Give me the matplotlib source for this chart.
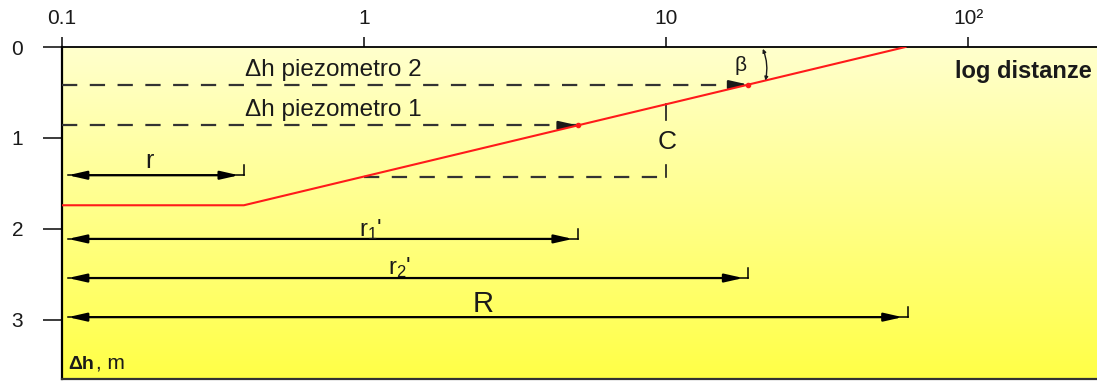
import numpy as np
import matplotlib
matplotlib.use("Agg")
import matplotlib.pyplot as plt

plt.rcParams['font.family'] = ['Liberation Sans', 'DejaVu Sans']
plt.rcParams['mathtext.fontset'] = 'custom'
plt.rcParams['mathtext.rm'] = 'Liberation Sans'
plt.rcParams['lines.scale_dashes'] = False

# axes ticks
x_ticks = [0.1, 1, 10, 100]
x_tick_labels = ['0.1', '1', '10', '10²']
y_ticks = [0, 1, 2, 3]
y_tick_labels = ['0', '1', '2', '3']

# drawdown curve: flat inside the well radius, straight line in log distance beyond
curve_r = [0.1, 0.4, 62.0]
curve_dh = [1.74, 1.74, 0.0]

# piezometers
piezo_r = [5.1, 18.7]
piezo_labels = ['Δh piezometro 1', 'Δh piezometro 2']

# distance dimensions
dim_labels = ['r', r"$\mathregular{r_1}$'", r"$\mathregular{r_2}$'", 'R']
dim_ends = [0.4, 5.1, 18.7, 63.0]
dim_levels = [1.41, 2.11, 2.54, 2.97]
dim_label_x = [0.195, 1.05, 1.31, 2.48]
dim_label_y = [1.25, 2.01, 2.42, 2.82]
dim_label_size = [18, 17, 17, 21]

# one log cycle used for C
c_from, c_to = 1.0, 10.0


def dh_at(r):
    return np.interp(np.log10(r), np.log10(curve_r), curve_dh)


W, H = 1097, 381
fig = plt.figure(figsize=(W / 100, H / 100), dpi=100)
ax = fig.add_axes([62 / W, 2 / H, 1 - 62 / W, (379 - 47) / H])
ax.set_xscale('log')
ax.set_xlim(0.1, 267)
ax.set_ylim(3.65, 0)

# yellow background gradient
grad = np.linspace(0, 1, 256).reshape(-1, 1)
top = np.array([255, 255, 205]) / 255
bot = np.array([255, 255, 70]) / 255
img = top + (bot - top) * grad[..., None]
ax.imshow(img, extent=[0, 1, 0, 1], transform=ax.transAxes, aspect='auto',
          origin='upper', zorder=0)

ink = '#1a1a1a'
dash = (0, (11, 9))
head = 'head_length=1.1,head_width=0.25'

# drawdown line
ax.plot(curve_r, curve_dh, color='#ff1a1a', lw=1.5, zorder=4)

# piezometer levels
for r, lab, ty in zip(piezo_r, piezo_labels, [0.69, 0.25]):
    d = dh_at(r)
    ax.plot([0.1, r], [d, d], color='#333333', lw=1.6, linestyle=dash, zorder=3)
    ax.annotate('', xy=(r, d), xytext=(r * 0.9, d),
                arrowprops=dict(arrowstyle='-|>,' + head, color=ink, lw=1.6,
                                mutation_scale=10, shrinkA=0, shrinkB=0), zorder=3)
    ax.plot([r], [d], 'o', color='#ff1a1a', ms=3, zorder=5)
    ax.text(0.79, ty, lab, ha='center', va='center', fontsize=17.5, color=ink)

# C over one log cycle
d1 = dh_at(c_from)
d10 = dh_at(c_to)
ax.plot([c_from, c_to], [d1, d1], color='#333333', lw=1.6, linestyle=dash, zorder=3)
ax.plot([c_to, c_to], [d10, d10 + 0.17], color=ink, lw=1.2, zorder=3)
ax.plot([c_to, c_to], [1.30, d1], color=ink, lw=1.2, zorder=3)
ax.text(c_to * 1.01, 1.04, 'C', ha='center', va='center', fontsize=19, color=ink)

# beta angle
rb = 20.9
ax.annotate('', xy=(rb, 0.02), xytext=(rb * 1.02, dh_at(rb * 1.02)),
            arrowprops=dict(arrowstyle='<|-|>', color=ink, lw=1.0, mutation_scale=5,
                            connectionstyle='arc3,rad=0.15', shrinkA=0, shrinkB=0),
            zorder=5)
ax.text(17.6, 0.2, 'β', ha='center', va='center', fontsize=15, color=ink)

# distance dimensions
start = 0.1 * 10 ** (6 / 302)
for lab, end, lev, lx, ly, fs in zip(dim_labels, dim_ends, dim_levels,
                                     dim_label_x, dim_label_y, dim_label_size):
    tip = end * 10 ** (-5 / 302)
    ax.plot([start, end], [lev, lev], color='black', lw=1.1, zorder=3)
    ax.plot([end, end], [lev - 0.11, lev], color='black', lw=1.1, zorder=3)
    ax.annotate('', xy=(tip, lev), xytext=(start, lev),
                arrowprops=dict(arrowstyle='<|-|>,' + head,
                                color='black', lw=1.6, mutation_scale=10,
                                shrinkA=0, shrinkB=0), zorder=3)
    ax.text(lx, ly, lab, ha='center', va='center', fontsize=fs, color=ink)

ax.text(0.995, 0.27, 'log distanze', transform=ax.get_yaxis_transform(),
        ha='right', va='center', fontsize=17, fontweight='bold', color=ink)
t1 = ax.text(0.105, 3.49, 'Δh', ha='left', va='center', fontsize=14,
             fontweight='bold', color=ink)
ax.annotate(', m', xy=(1, 0), xycoords=t1, xytext=(1, 0), textcoords='offset points',
            ha='left', va='bottom', fontsize=15, color=ink)

# axes styling
ax.xaxis.set_ticks_position('top')
ax.set_xticks(x_ticks)
ax.set_xticklabels(x_tick_labels)
ax.xaxis.set_minor_locator(matplotlib.ticker.NullLocator())
ax.set_yticks(y_ticks)
ax.set_yticklabels(y_tick_labels)
ax.tick_params(axis='x', direction='out', length=7.5, width=1.2, pad=6,
               labelsize=15, colors=ink)
ax.tick_params(axis='y', direction='out', length=14, width=1.2, pad=14,
               labelsize=15, colors=ink)
ax.spines['right'].set_visible(False)
ax.spines['top'].set_linewidth(1.3)
ax.spines['left'].set_linewidth(1.6)
ax.spines['bottom'].set_linewidth(1.6)
ax.spines['bottom'].set_color('#333333')

fig.savefig('out.png', dpi=100, facecolor='white')
